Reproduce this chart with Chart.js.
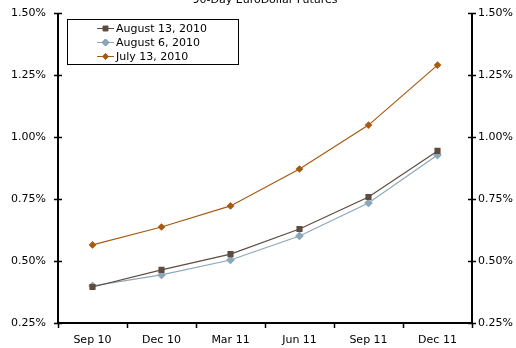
<!DOCTYPE html>
<html>
<head>
<meta charset="utf-8">
<script src="https://cdn.jsdelivr.net/npm/chart.js@4/dist/chart.umd.min.js"></script>
<style>
  html, body { margin: 0; padding: 0; background: #fff; }
  #wrap { width: 516px; height: 348px; }
</style>
</head>
<body>
<div id="wrap"><canvas id="chart" width="516" height="348"></canvas></div>
<script>
// Chart data
const categories = ['Sep 10', 'Dec 10', 'Mar 11', 'Jun 11', 'Sep 11', 'Dec 11'];
const aug13 = [0.395, 0.464, 0.528, 0.629, 0.758, 0.944];
const aug6 = [0.400, 0.444, 0.504, 0.601, 0.734, 0.927];
const jul13 = [0.565, 0.637, 0.722, 0.871, 1.048, 1.290];
const yTicks = [0.25, 0.50, 0.75, 1.00, 1.25, 1.50];

const FONT = 'Verdana, "DejaVu Sans", sans-serif';

// draws title, axes with crossing ticks and the boxed legend
const decorPlugin = {
    id: 'decor',
    afterDraw(chart) {
        const ctx = chart.ctx;
        const area = chart.chartArea;
        const y = chart.scales.y;
        ctx.save();

        // title (partly cut by the top edge)
        ctx.fillStyle = '#000';
        ctx.font = '11px ' + FONT;
        ctx.textAlign = 'center';
        ctx.textBaseline = 'alphabetic';
        ctx.fillText('90-Day EuroDollar Futures', 265, 3);

        // axis lines
        ctx.strokeStyle = '#000';
        ctx.lineWidth = 2;
        ctx.beginPath();
        ctx.moveTo(area.left, area.top);
        ctx.lineTo(area.left, area.bottom);
        ctx.lineTo(area.right, area.bottom);
        ctx.lineTo(area.right, area.top);
        ctx.stroke();

        // y tick marks on both sides
        ctx.lineWidth = 1.5;
        yTicks.forEach(v => {
            const py = Math.round(y.getPixelForValue(v)) + 0.5;
            ctx.beginPath();
            ctx.moveTo(area.left - 4, py);
            ctx.lineTo(area.left + 4, py);
            ctx.moveTo(area.right - 4, py);
            ctx.lineTo(area.right + 4, py);
            ctx.stroke();
        });

        // x tick marks between categories
        const step = (area.right - area.left) / categories.length;
        for (let i = 0; i <= categories.length; i++) {
            const px = Math.round(area.left + i * step) + 0.5;
            ctx.beginPath();
            ctx.moveTo(px, area.bottom);
            ctx.lineTo(px, area.bottom + 5);
            ctx.stroke();
        }

        // legend box
        const lx = 67, ly = 19, lw = 171, lh = 45;
        ctx.fillStyle = '#fff';
        ctx.fillRect(lx, ly, lw, lh);
        ctx.lineWidth = 1;
        ctx.strokeStyle = '#000';
        ctx.strokeRect(lx + 0.5, ly + 0.5, lw, lh);
        ctx.font = '11px ' + FONT;
        ctx.textAlign = 'left';
        ctx.textBaseline = 'middle';
        chart.data.datasets.forEach((ds, i) => {
            const cy = ly + 9 + i * 14;
            ctx.strokeStyle = ds.borderColor;
            ctx.lineWidth = 1;
            ctx.beginPath();
            ctx.moveTo(97, cy + 0.5);
            ctx.lineTo(114, cy + 0.5);
            ctx.stroke();
            Chart.helpers.drawPoint(ctx, {
                pointStyle: ds.pointStyle,
                radius: ds.pointRadius,
                rotation: ds.pointRotation || 0,
                borderWidth: 1
            }, 105.5, cy + 0.5);
            ctx.fillStyle = ds.pointBackgroundColor;
            ctx.strokeStyle = ds.pointBorderColor;
            ctx.fill();
            ctx.fillStyle = '#000';
            ctx.fillText(ds.label, 116, cy + 1);
        });
        ctx.restore();
    }
};

function fitY(width) {
    return function(s) {
        s.width = width;
        s.paddingTop = 0;
        s.paddingBottom = 0;
    };
}

const ctx = document.getElementById('chart').getContext('2d');
new Chart(ctx, {
    type: 'line',
    data: {
        labels: categories,
        datasets: [
            {
                label: 'August 13, 2010',
                data: aug13,
                borderColor: '#5e4c40',
                borderWidth: 1.2,
                pointStyle: 'rect',
                pointRadius: 3.5,
                pointBackgroundColor: '#5e4c40',
                pointBorderColor: '#5e4c40',
                tension: 0
            },
            {
                label: 'August 6, 2010',
                data: aug6,
                borderColor: '#8ba8bb',
                borderWidth: 1.2,
                pointStyle: 'rectRot',
                pointRadius: 3.5,
                pointBackgroundColor: '#8ba8bb',
                pointBorderColor: '#8ba8bb',
                tension: 0
            },
            {
                label: 'July 13, 2010',
                data: jul13,
                borderColor: '#a85a10',
                borderWidth: 1.2,
                pointStyle: 'rectRot',
                pointRadius: 3,
                pointBackgroundColor: '#a85a10',
                pointBorderColor: '#a85a10',
                tension: 0
            }
        ]
    },
    options: {
        responsive: false,
        animation: false,
        layout: { padding: { top: 13, bottom: 0, left: 0, right: 0 } },
        plugins: {
            legend: { display: false },
            title: { display: false },
            tooltip: { enabled: false }
        },
        scales: {
            x: {
                offset: true,
                grid: { display: false, drawTicks: false },
                border: { display: false },
                ticks: { color: '#000', font: { family: FONT, size: 11 }, padding: 11, maxRotation: 0 },
                afterFit(s) {
                    s.height = 25;
                    s.paddingLeft = 0;
                    s.paddingRight = 0;
                }
            },
            y: {
                position: 'left',
                min: 0.25,
                max: 1.5,
                afterBuildTicks(s) { s.ticks = yTicks.map(v => ({ value: v })); },
                grid: { display: false, drawTicks: false },
                border: { display: false },
                ticks: {
                    color: '#000',
                    font: { family: FONT, size: 11 },
                    padding: 12,
                    callback: v => v.toFixed(2) + '%'
                },
                afterFit: fitY(58)
            },
            y2: {
                position: 'right',
                min: 0.25,
                max: 1.5,
                afterBuildTicks(s) { s.ticks = yTicks.map(v => ({ value: v })); },
                grid: { display: false, drawTicks: false },
                border: { display: false },
                ticks: {
                    color: '#000',
                    font: { family: FONT, size: 11 },
                    padding: 6,
                    callback: v => v.toFixed(2) + '%'
                },
                afterFit: fitY(44)
            }
        }
    },
    plugins: [decorPlugin]
});
</script>
</body>
</html>
